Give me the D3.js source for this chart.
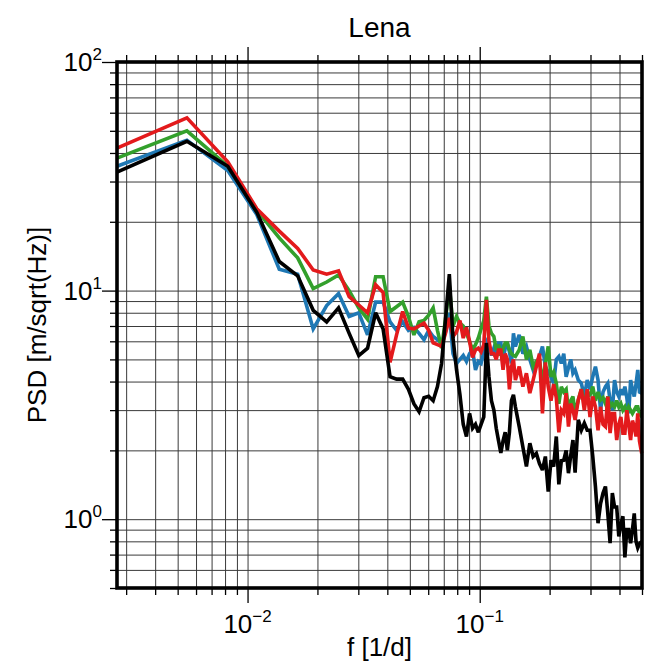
<!DOCTYPE html>
<html><head><meta charset="utf-8">
<script src="https://cdn.jsdelivr.net/npm/d3@7"></script>
<style>
body{margin:0;background:#fff}
svg{display:block}
text{font-family:"Liberation Sans",Arial,Helvetica,sans-serif;fill:#000}
</style>
</head><body>
<svg id="chart" width="646" height="665"></svg>
<script>
// frequency index: cycles per year (f = k / 365 cycles per day)
const cyclesPerYear = [1,2,3,4,5,6,7,8,9,10,11,12,13,14,15,16,17,18,19,20,21,22,23,24,25,26,27,28,29,30,31,32,33,34,35,36,37,38,39,40,41,42,43,44,45,46,47,48,49,50,51,
  52,54,56,58,60,62,64,66,68,70,72,74,76,78,80,82,84,86,88,90,92,94,
  97,100,103,106,109,112,115,118,121,124,127,130,133,136,139,142,145,148,151,154,157,160,163,166,169,172,175,178,182];

const blueSeries = [35,45.5,33.5,21.5,12.4,11.8,6.8,8.6,9.7,7.7,8.0,6.4,8.9,8.9,7.3,6.7,7.3,6.7,6.9,6.5,6.1,6.7,6.3,6.1,5.9,6.6,8.0,5.3,4.8,5.0,5.2,4.9,5.3,5.5,4.5,4.9,4.8,5.4,6.0,5.7,5.2,5.6,5.3,5.9,5.9,5.0,5.6,5.9,5.4,4.8,6.5,
  5.7,6.4,5.3,5.7,5.0,4.5,4.8,5.15,5.7,4.65,4.4,4.2,3.93,5.0,5.15,4.8,5.3,4.2,4.6,5.0,4.35,4.5,
  4.06,3.93,3.44,4.06,3.7,4.2,4.65,4.06,3.0,3.6,3.8,3.93,3.3,3.0,4.06,3.6,3.44,3.7,3.5,3.8,3.4,2.9,4.06,3.7,3.44,3.9,4.5,3.6,3.56];

const greenSeries = [38,50,35,22.5,17,13.9,10.2,10.9,11.7,10.0,8.4,7.5,11.5,11.5,8.1,8.5,8.9,7.7,6.4,7.3,7.4,7.8,8.4,6.7,5.6,7.5,10.5,7.0,7.7,7.2,7.0,6.5,6.0,5.5,5.8,6.2,6.8,7.4,9.4,7.0,6.5,6.3,5.5,5.8,5.2,5.6,5.9,5.9,5.5,5.3,5.2,
  5.15,5.5,6.3,5.0,5.5,4.65,4.9,5.0,3.93,4.8,5.7,4.2,4.4,3.93,3.2,3.8,3.6,3.7,3.0,3.3,3.44,2.9,
  3.32,3.7,3.3,3.44,3.5,3.8,3.3,3.6,3.32,3.4,3.2,3.44,3.1,3.2,3.1,3.3,3.1,3.2,3.0,3.1,2.9,3.1,3.0,2.9,3.0,3.1,3.1,2.9,2.8];

const redSeries = [42,57,36.6,22.8,18.2,15.3,12.3,11.8,12.2,9.4,8.65,8.0,10.6,9.8,4.85,6.4,8.1,6.85,6.8,7.0,7.2,6.7,5.9,5.8,5.7,6.5,7.6,6.3,6.6,7.4,6.2,6.9,6.0,5.1,5.5,5.6,5.4,5.8,9.1,6.0,5.3,5.3,5.0,5.5,5.5,4.5,5.3,5.0,3.7,4.65,5.0,
  4.06,4.65,3.8,4.35,3.56,4.06,4.65,5.3,2.9,4.85,3.8,3.3,3.9,3.4,2.4,3.0,2.9,3.56,2.54,3.2,3.0,2.72,
  3.32,3.7,3.0,3.7,2.8,3.44,3.1,2.45,3.1,2.6,2.54,3.44,2.38,2.9,2.9,2.22,2.6,2.8,2.38,2.38,3.0,2.6,2.22,2.7,2.54,2.3,2.9,2.2,1.94];

const blackSeries = [33,45,35,22,13.4,11.6,8.2,7.3,8.4,6.5,5.2,5.6,8.0,6.8,4.2,4.1,4.1,3.7,3.2,2.95,3.4,3.45,3.3,3.8,4.8,7.5,11.8,6.2,4.5,3.5,2.6,2.3,2.9,2.5,2.6,2.4,2.6,2.8,5.9,4.2,3.3,3.0,2.5,2.2,1.95,2.2,2.4,2.0,2.4,3.3,3.5,
  3.1,2.54,2.07,1.70,2.15,1.88,1.94,1.75,1.64,1.88,1.32,1.81,1.70,2.30,1.42,1.8,1.81,2.0,1.59,1.9,2.22,1.6,
  2.72,2.45,2.63,2.45,2.45,1.88,1.39,0.96,1.17,1.3,1.39,1.06,0.785,1.30,1.13,1.13,0.84,0.95,1.03,0.68,0.9,0.90,0.785,0.9,1.06,0.8,0.75,0.78,0.8];

const seriesColors = ["#1f78b4","#33a02c","#e31a1c","#000000"];

const xMajorTicks = [0.01, 0.1];
const xMajorExponents = ["\u22122", "\u22121"];
const xMinorTicks = [0.003,0.004,0.005,0.006,0.007,0.008,0.009,0.02,0.03,0.04,0.05,0.06,0.07,0.08,0.09,0.2,0.3,0.4,0.5];
const yMajorTicks = [1, 10, 100];
const yMajorExponents = ["0", "1", "2"];
const yMinorTicks = [0.5,0.6,0.7,0.8,0.9,2,3,4,5,6,7,8,9,20,30,40,50,60,70,80,90];

const titleText = "Lena";
const xLabelText = "f [1/d]";
const yLabelText = "PSD [m/sqrt(Hz)]";

// ---- drawing ----
const svg = d3.select("#chart");
const L = 117, R = 642, T = 62, B = 588;
const x = d3.scaleLog().domain([1/365, 0.5]).range([L, R]);
const y = d3.scaleLog().domain([0.5, 100]).range([B, T]);

const freqs = cyclesPerYear.map(k => k / 365);

// grid
const allX = xMinorTicks.concat(xMajorTicks);
const allY = yMinorTicks.concat(yMajorTicks);
const gx = svg.append("g").attr("transform", `translate(0,${B})`)
  .call(d3.axisBottom(x).tickValues(allX).tickSize(-(B - T)).tickFormat(""));
const gy = svg.append("g").attr("transform", `translate(${L},0)`)
  .call(d3.axisLeft(y).tickValues(allY).tickSize(-(R - L)).tickFormat(""));
[gx, gy].forEach(g => {
  g.select(".domain").remove();
  g.selectAll("line").attr("stroke", "#3a3a3a").attr("stroke-width", 1);
});

// ticks
function tickAxis(axis, vals, size, transform) {
  const g = svg.append("g").attr("transform", transform)
    .call(axis.tickValues(vals).tickSize(size).tickFormat(""));
  g.select(".domain").remove();
  g.selectAll("line").attr("stroke", "#000").attr("stroke-width", 1.3);
  return g;
}
tickAxis(d3.axisBottom(x), xMinorTicks, 7, `translate(0,${B})`);
tickAxis(d3.axisBottom(x), xMajorTicks, 15, `translate(0,${B})`);
tickAxis(d3.axisTop(x), xMinorTicks, 7, `translate(0,${T})`);
tickAxis(d3.axisTop(x), xMajorTicks, 15, `translate(0,${T})`);
tickAxis(d3.axisLeft(y), yMinorTicks, 7, `translate(${L},0)`);
tickAxis(d3.axisLeft(y), yMajorTicks, 15, `translate(${L},0)`);

// series
const line = d3.line().x(d => x(d[0])).y(d => y(d[1]));
const allSeries = [blueSeries, greenSeries, redSeries, blackSeries];
allSeries.forEach((vals, i) => {
  svg.append("path")
    .datum(freqs.map((f, j) => [f, vals[j]]))
    .attr("d", line)
    .attr("fill", "none")
    .attr("stroke", seriesColors[i])
    .attr("stroke-width", 3.6)
    .attr("stroke-linejoin", "miter")
    .attr("stroke-miterlimit", 3);
});

// frame
svg.append("rect").attr("x", L).attr("y", T).attr("width", R - L).attr("height", B - T)
  .attr("fill", "none").attr("stroke", "#000").attr("stroke-width", 3.6);

// x tick labels
xMajorTicks.forEach((v, i) => {
  const t = svg.append("text").attr("x", x(v)).attr("y", 633)
    .attr("text-anchor", "middle").attr("font-size", 26);
  t.append("tspan").text("10");
  t.append("tspan").attr("dy", -11).attr("font-size", 17).text(xMajorExponents[i]);
});
// y tick labels
yMajorTicks.forEach((v, i) => {
  const t = svg.append("text").attr("x", 102).attr("y", y(v) + 9)
    .attr("text-anchor", "end").attr("font-size", 26);
  t.append("tspan").text("10");
  t.append("tspan").attr("dy", -11).attr("font-size", 17).text(yMajorExponents[i]);
});

// title and axis labels
svg.append("text").attr("x", (L + R) / 2).attr("y", 37).attr("text-anchor", "middle")
  .attr("font-size", 28).text(titleText);
svg.append("text").attr("x", (L + R) / 2).attr("y", 656).attr("text-anchor", "middle")
  .attr("font-size", 26).text(xLabelText);
svg.append("text").attr("transform", `translate(46,${(T + B) / 2}) rotate(-90)`)
  .attr("text-anchor", "middle").attr("font-size", 26).text(yLabelText);
</script>
</body></html>
